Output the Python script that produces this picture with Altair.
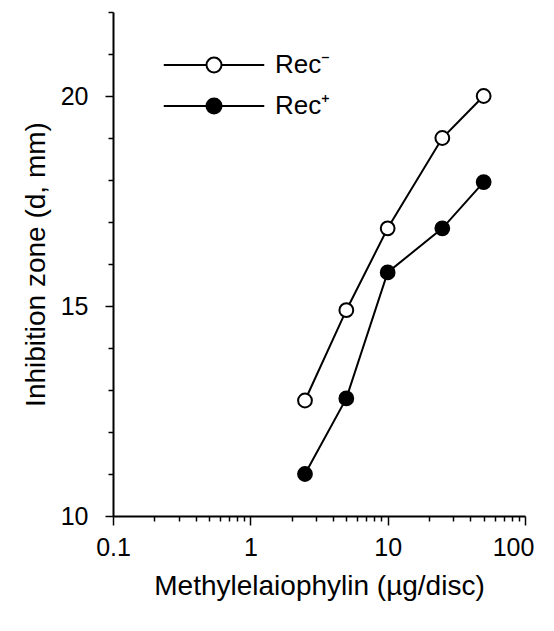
import altair as alt
import pandas as pd

doses = [2.5, 5, 10, 25, 50]
rec_minus = [12.75, 14.9, 16.85, 19.0, 20.0]
rec_plus = [11.0, 12.8, 15.8, 16.85, 17.95]
series = ["Rec\u207b", "Rec\u207a"]

x_ticks = [0.1, 0.2, 0.3, 0.4, 0.5, 0.6, 0.7, 0.8, 0.9,
           1, 2, 3, 4, 5, 6, 7, 8, 9,
           10, 20, 30, 40, 50, 60, 70, 80, 90, 100]
y_ticks = [10, 11, 12, 13, 14, 15, 16, 17, 18, 19, 20, 21, 22]

rows = []
for s, vals in zip(series, [rec_minus, rec_plus]):
    for d, v in zip(doses, vals):
        rows.append({"dose": d, "zone": v, "series": s})
df = pd.DataFrame(rows)

FONT = "Liberation Sans"
is_decade = "abs(log(datum.value)/LN10 - round(log(datum.value)/LN10)) < 1e-6"

x_enc = alt.X(
    "dose:Q",
    scale=alt.Scale(type="log", domain=[0.1, 100], nice=False),
    axis=alt.Axis(
        title="Methylelaiophylin  (\u00b5g/disc)",
        values=x_ticks,
        labelExpr=f"{is_decade} ? format(datum.value, '~g') : ''",
        tickSize={"condition": {"test": is_decade, "value": 9}, "value": 5},
        labelOffset={"condition": {"test": "datum.value >= 100", "value": -12}, "value": 0},
        labelPadding=10,
        titlePadding=12,
        labelFlush=False,
    ),
)
y_enc = alt.Y(
    "zone:Q",
    scale=alt.Scale(domain=[10, 22], nice=False),
    axis=alt.Axis(
        title="Inhibition zone (d, mm)",
        values=y_ticks,
        labelExpr="datum.value % 5 === 0 ? datum.value : ''",
        tickSize={"condition": {"test": "datum.value % 5 === 0", "value": 8}, "value": 5},
        labelPadding=17,
        titlePadding=10,
    ),
)

legend_path = "M-6.7,0L-1,0M1,0L6.7,0M1,0A1,1,0,1,1,-1,0A1,1,0,1,1,1,0Z"

lines = alt.Chart(df).mark_line(color="black", strokeWidth=2).encode(
    x=x_enc, y=y_enc, detail="series:N"
)
points = alt.Chart(df).mark_point(
    shape="circle", size=190, strokeWidth=2, stroke="black", opacity=1, filled=True
).encode(
    x=x_enc,
    y=y_enc,
    fill=alt.Fill(
        "series:N",
        scale=alt.Scale(domain=series, range=["white", "black"]),
        legend=alt.Legend(
            title=None,
            orient="none",
            legendX=88,
            legendY=40,
            symbolType=legend_path,
            symbolSize=225,
            symbolStrokeWidth=2,
            symbolStrokeColor="black",
            labelFontSize=26,
            labelFont=FONT,
            labelColor="black",
            labelOffset=48,
            rowPadding=15,
            padding=0,
        ),
    ),
)

chart = (
    alt.layer(lines, points)
    .properties(
        width=412,
        height=504,
        autosize=alt.AutoSizeParams(type="none"),
        padding={"left": 105, "top": 4, "right": 21, "bottom": 107},
    )
    .configure_view(stroke=None)
    .configure_axis(
        grid=False,
        domainColor="black",
        domainWidth=2,
        tickColor="black",
        tickWidth=1.5,
        labelFont=FONT,
        labelFontSize=25,
        labelColor="black",
        titleFont=FONT,
        titleFontSize=28,
        titleFontWeight="normal",
        titleColor="black",
    )
)

chart.save("out.html", embed_options={"renderer": "svg", "actions": False})
